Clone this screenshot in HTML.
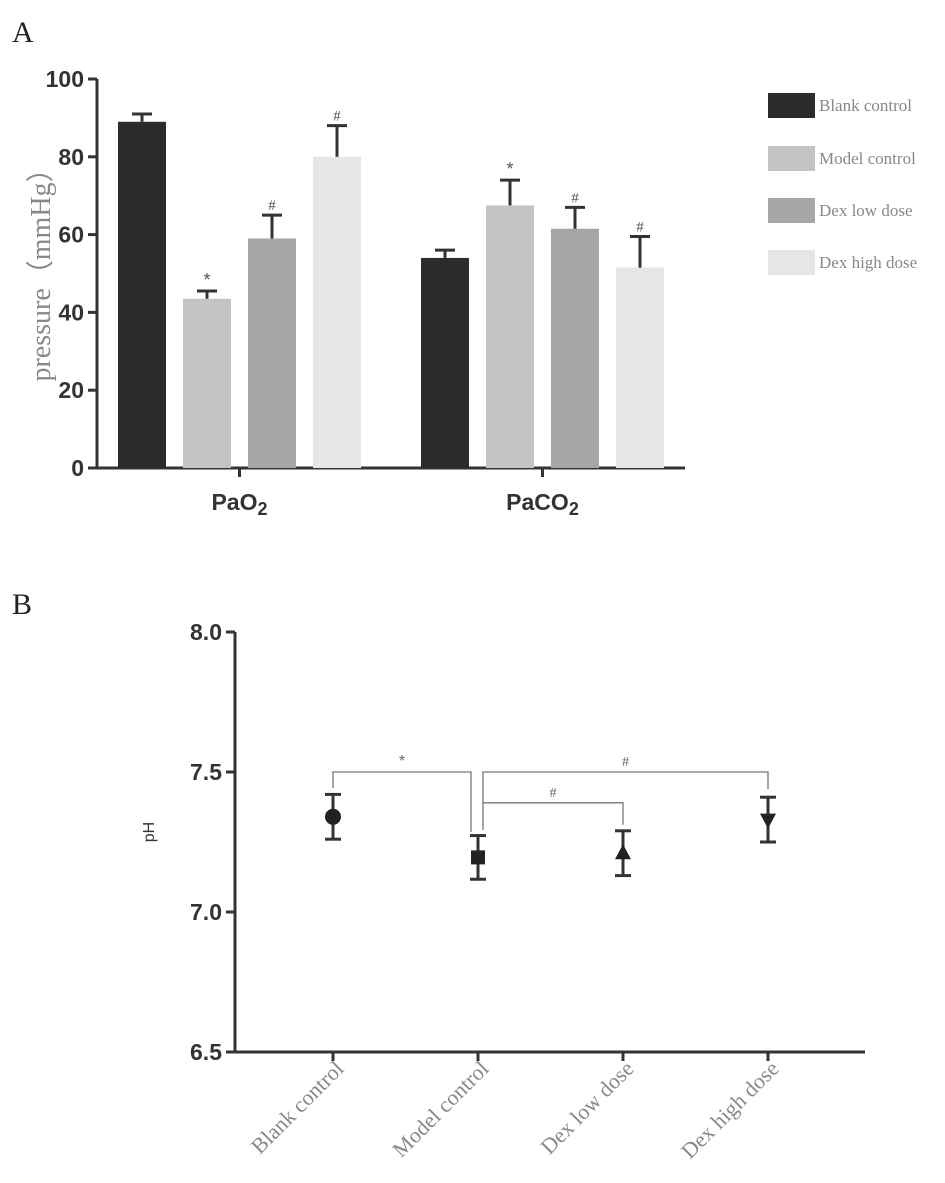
<!DOCTYPE html>
<html><head><meta charset="utf-8"><style>
body{margin:0;background:#fff;width:945px;height:1183px;overflow:hidden}
svg{display:block}
.tick{font-family:"Liberation Sans",sans-serif;font-size:23px;font-weight:bold;fill:#333}
.serif{font-family:"Liberation Serif",serif;fill:#888}
</style></head><body>
<svg id="chart" width="945" height="1183">
<text x="12" y="42" font-family="Liberation Serif,serif" font-size="30" fill="#222">A</text>
<text x="12" y="614" font-family="Liberation Serif,serif" font-size="30" fill="#222">B</text>
<g id="panelA"></g><g id="panelB"></g>
</svg>
<script>
const NS="http://www.w3.org/2000/svg";
const groups=["Blank control","Model control","Dex low dose","Dex high dose"];
const colors=["#2b2b2b","#c4c4c4","#a6a6a6","#e6e6e6"];
const params=["PaO2","PaCO2"];
const paO2Mean=[89,43.5,59,80];
const paO2Err=[2,2,6,8];
const paCO2Mean=[54,67.5,61.5,51.5];
const paCO2Err=[2,6.5,5.5,8];
const barMarks=[["","*","#","#"],["","*","#","#"]];
const yTicksA=[0,20,40,60,80,100];
const phMean=[7.34,7.195,7.21,7.33];
const phErr=[0.08,0.078,0.08,0.08];
const yTicksB=["6.5","7.0","7.5","8.0"];

function el(tag,attrs,parent,text){const e=document.createElementNS(NS,tag);for(const k in attrs)e.setAttribute(k,attrs[k]);if(text!==undefined)e.textContent=text;parent.appendChild(e);return e;}

// Panel A
const gA=document.getElementById('panelA');
const yA=v=>468-v*3.89;
const groupStart=[118,421], barStep=65, barW=48;
el('line',{x1:97,y1:yA(100),x2:97,y2:yA(0)+1,stroke:'#333','stroke-width':3},gA);
el('line',{x1:88,y1:yA(0),x2:685,y2:yA(0),stroke:'#333','stroke-width':3},gA);
yTicksA.forEach(t=>{
  el('line',{x1:88,y1:yA(t),x2:97,y2:yA(t),stroke:'#333','stroke-width':3},gA);
  const tx=el('text',{x:84,y:yA(t)+8,'text-anchor':'end',class:'tick'},gA,t);
  
  
});
const yl=el('text',{x:0,y:0,transform:'translate(50,268) rotate(-90)','text-anchor':'middle',class:'serif','font-size':28,fill:'#999'},gA,'pressure（mmHg）');


const means=[paO2Mean,paCO2Mean], errs=[paO2Err,paCO2Err];
params.forEach((p,pi)=>{
  const tickX=groupStart[pi]+(barStep*3+barW)/2;
  el('line',{x1:tickX,y1:yA(0),x2:tickX,y2:yA(0)+9,stroke:'#333','stroke-width':3},gA);
  const lab=el('text',{x:tickX,y:yA(0)+42,'text-anchor':'middle',class:'tick'},gA);
  
  
  lab.appendChild(document.createTextNode(p.slice(0,-1)));
  el('tspan',{dy:5,'font-size':18},lab,p.slice(-1));
  groups.forEach((g,gi)=>{
    const x=groupStart[pi]+gi*barStep, v=means[pi][gi], e=errs[pi][gi];
    const r=el('rect',{x:x,y:yA(v),width:barW,height:yA(0)-yA(v),fill:colors[gi]},gA);
    
    
    const cx=x+barW/2;
    el('line',{x1:cx,y1:yA(v),x2:cx,y2:yA(v+e),stroke:'#333','stroke-width':3},gA);
    el('line',{x1:cx-10,y1:yA(v+e),x2:cx+10,y2:yA(v+e),stroke:'#333','stroke-width':3},gA);
    const m=barMarks[pi][gi];
    if(m){const t=el('text',{x:cx,y:yA(v+e)-5,'text-anchor':'middle','font-family':m=='*'?'Liberation Sans,sans-serif':'Liberation Serif,serif','font-size':m=='*'?18:15,fill:'#555'},gA,m);
      
      }
  });
});
const legY=[93,146,198,250];
groups.forEach((g,gi)=>{
  const r=el('rect',{x:768,y:legY[gi],width:47,height:25,fill:colors[gi]},gA);
  
  
  const t=el('text',{x:819,y:legY[gi]+18,class:'serif','font-size':17},gA,g);
  
  
});

// Panel B
const gB=document.getElementById('panelB');
const yB=v=>1052-(v-6.5)*280;
const xB=i=>333+i*145;
el('line',{x1:235,y1:yB(8),x2:235,y2:yB(6.5)+1,stroke:'#333','stroke-width':3},gB);
el('line',{x1:226,y1:yB(6.5),x2:865,y2:yB(6.5),stroke:'#333','stroke-width':3},gB);
yTicksB.forEach(t=>{
  const v=parseFloat(t);
  el('line',{x1:226,y1:yB(v),x2:235,y2:yB(v),stroke:'#333','stroke-width':3},gB);
  const tx=el('text',{x:222,y:yB(v)+8,'text-anchor':'end',class:'tick'},gB,t);
  
  
});
const ph=el('text',{x:0,y:0,transform:'translate(154,832) rotate(-90)','text-anchor':'middle','font-family':'Liberation Sans,sans-serif','font-size':16,fill:'#333'},gB,'pH');


groups.forEach((g,i)=>{
  const x=xB(i), v=phMean[i], e=phErr[i];
  el('line',{x1:x,y1:yB(6.5),x2:x,y2:yB(6.5)+9,stroke:'#333','stroke-width':3},gB);
  const t=el('text',{x:0,y:0,transform:`translate(${x+12},${yB(6.5)+18}) rotate(-45)`,'text-anchor':'end',class:'serif','font-size':22,fill:'#999'},gB,g);
  
  
  el('line',{x1:x,y1:yB(v-e),x2:x,y2:yB(v+e),stroke:'#333','stroke-width':3},gB);
  el('line',{x1:x-8,y1:yB(v-e),x2:x+8,y2:yB(v-e),stroke:'#333','stroke-width':3},gB);
  el('line',{x1:x-8,y1:yB(v+e),x2:x+8,y2:yB(v+e),stroke:'#333','stroke-width':3},gB);
  const cy=yB(v); let m;
  if(i==0) m=el('circle',{cx:x,cy:cy,r:8,fill:'#222'},gB);
  else if(i==1) m=el('rect',{x:x-7,y:cy-7,width:14,height:14,fill:'#222'},gB);
  else if(i==2) m=el('polygon',{points:`${x},${cy-9} ${x+8},${cy+6} ${x-8},${cy+6}`,fill:'#222'},gB);
  else m=el('polygon',{points:`${x},${cy+9} ${x+8},${cy-6} ${x-8},${cy-6}`,fill:'#222'},gB);
  
  
});
function bracket(x1,x2,y,d1,d2,label,name){
  const p=el('path',{d:`M${x1},${y+d1} V${y} H${x2} V${y+d2}`,fill:'none',stroke:'#777','stroke-width':1.3},gB);
  
  
  el('text',{x:(x1+x2)/2,y:y-6,'text-anchor':'middle','font-family':label=='*'?'Liberation Sans,sans-serif':'Liberation Serif,serif','font-size':label=='*'?16:14,fill:'#666'},gB,label);
}
bracket(xB(0),xB(1)-7,yB(7.5),16,60,'*','bracket-blank-model');
bracket(xB(1)+5,xB(3),yB(7.5),58,17,'#','bracket-model-high');
bracket(xB(1)+5,xB(2),yB(7.39),-1,22,'#','bracket-model-low');
</script>
</body></html>
